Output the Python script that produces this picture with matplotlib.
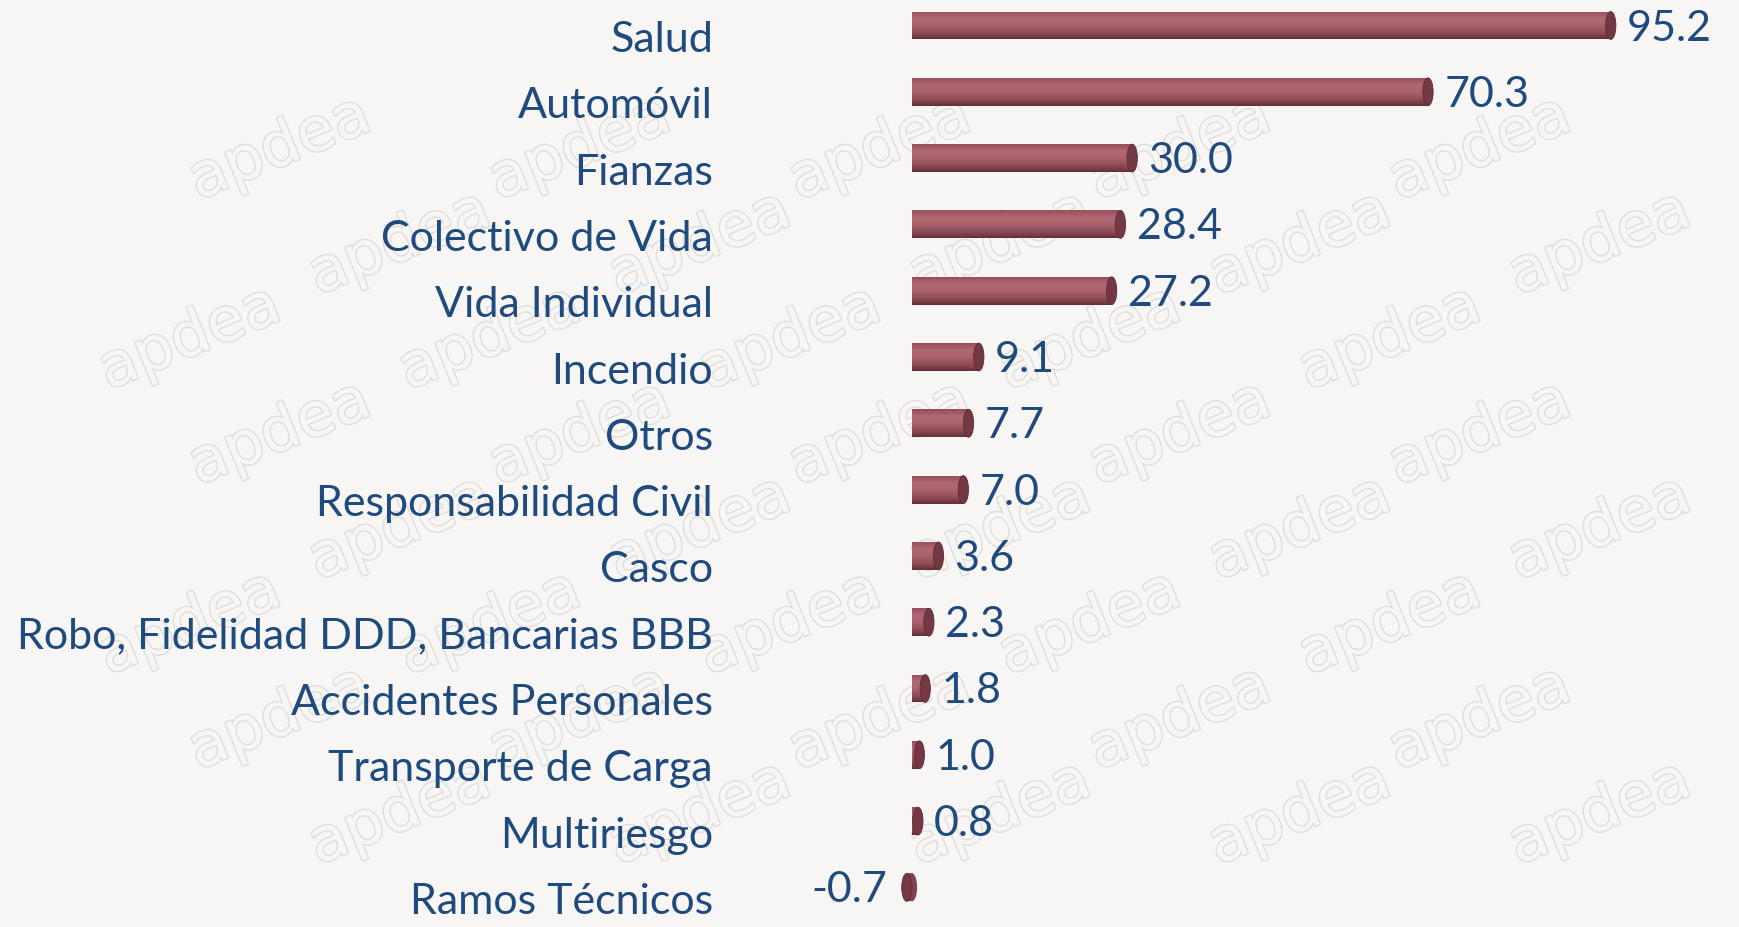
import matplotlib
matplotlib.use("Agg")
import matplotlib.pyplot as plt
import numpy as np
from matplotlib.patches import Ellipse
from matplotlib.colors import LinearSegmentedColormap
import matplotlib.transforms as mtransforms
import matplotlib.patheffects as pe

categories = ["Salud", "Automóvil", "Fianzas", "Colectivo de Vida", "Vida Individual",
              "Incendio", "Otros", "Responsabilidad Civil", "Casco",
              "Robo, Fidelidad DDD, Bancarias BBB", "Accidentes Personales",
              "Transporte de Carga", "Multiriesgo", "Ramos Técnicos"]
values = [95.2, 70.3, 30.0, 28.4, 27.2, 9.1, 7.7, 7.0, 3.6, 2.3, 1.8, 1.0, 0.8, -0.7]
value_labels = ["95.2", "70.3", "30.0", "28.4", "27.2", "9.1", "7.7", "7.0", "3.6",
                "2.3", "1.8", "1.0", "0.8", "-0.7"]

BG = "#F7F6F4"
TXT = "#1F4A7E"
FONT = ["Lato", "DejaVu Sans"]
FS = 31

W, H, DPI = 1740, 928, 100
fig = plt.figure(figsize=(W / DPI, H / DPI), dpi=DPI, facecolor=BG)

# watermark (decorative, kept fully inside the figure)
wm = fig.add_axes([0, 0, 1, 1], zorder=0)
wm.set_xlim(0, W); wm.set_ylim(H, 0); wm.axis("off")
marks = []
for r, yy in enumerate(np.arange(-40, H + 120, 95)):
    for xx in np.arange(-200 + (r % 3) * 90, W + 200, 300):
        marks.append(wm.text(xx, yy, "apdea", fontsize=44, rotation=22, color=BG,
                             family=["DejaVu Sans"], ha="center", va="center",
                             path_effects=[pe.withStroke(linewidth=2.0, foreground="#E0DEDA")]))
fig.canvas.draw()
renderer = fig.canvas.get_renderer()
for t in marks:
    bb = t.get_window_extent(renderer)
    if bb.x0 < 1 or bb.y0 < 1 or bb.x1 > W - 1 or bb.y1 > H - 1:
        t.remove()

ax = fig.add_axes([880 / W, 0, 1 - 880 / W, 1], zorder=1)
ax.patch.set_alpha(0)
ppu = 7.34  # pixels per unit
xmin = -(912 - 880) / ppu
ax.set_xlim(xmin, xmin + (W - 880) / ppu)
spacing = 66.3
y0 = 26.5
ax.set_ylim(13 + (H - (y0 + 13 * spacing)) / spacing, -y0 / spacing)

y = np.arange(len(categories))
bh = 0.42
bars = ax.barh(y, values, height=bh, color="#A85E6A", edgecolor="none", zorder=2)

cmap = LinearSegmentedColormap.from_list("cyl", [
    (0.0, "#96505B"), (0.25, "#B06872"), (0.5, "#AA626D"), (0.8, "#8C4954"), (1.0, "#62303A")])
grad = np.linspace(0, 1, 64).reshape(-1, 1)
cap_w = 1.4
for b, v in zip(bars, values):
    x0, yb, w, h = b.get_x(), b.get_y(), b.get_width(), b.get_height()
    xl, xr = min(x0, x0 + w), max(x0, x0 + w)
    im = ax.imshow(grad, cmap=cmap, aspect="auto", extent=(xl, xr, yb + h, yb),
                   zorder=3, interpolation="bilinear")
    im.set_clip_path(b)
    ax.add_patch(Ellipse((v, yb + h / 2), cap_w, h, facecolor="#733843",
                         edgecolor="#5E2C36", lw=0.6, zorder=4))
    if v < 0:
        ax.add_patch(Ellipse((0, yb + h / 2), cap_w, h, facecolor="#844350",
                             edgecolor="none", zorder=3.5))

for yi, v, lab in zip(y, values, value_labels):
    if v >= 0:
        off = mtransforms.offset_copy(ax.transData, fig=fig, x=11, y=-2, units="dots")
        ax.text(v + cap_w / 2, yi, lab, transform=off, ha="left", va="center",
                fontsize=FS, color=TXT, family=FONT)
    else:
        off = mtransforms.offset_copy(ax.transData, fig=fig, x=-14, y=-2, units="dots")
        ax.text(v - cap_w / 2, yi, lab, transform=off, ha="right", va="center",
                fontsize=FS, color=TXT, family=FONT)

ax.set_yticks(y)
ax.set_yticklabels(categories, fontsize=FS, color=TXT, family=FONT)
ax.tick_params(axis="y", length=0, pad=(880 - 713) * 72 / DPI)
shift = mtransforms.ScaledTranslation(0, -10 / DPI, fig.dpi_scale_trans)
for t in ax.get_yticklabels():
    t.set_transform(t.get_transform() + shift)
ax.set_xticks([])
for s in ax.spines.values():
    s.set_visible(False)

fig.savefig("out.png", dpi=DPI, facecolor=BG)
